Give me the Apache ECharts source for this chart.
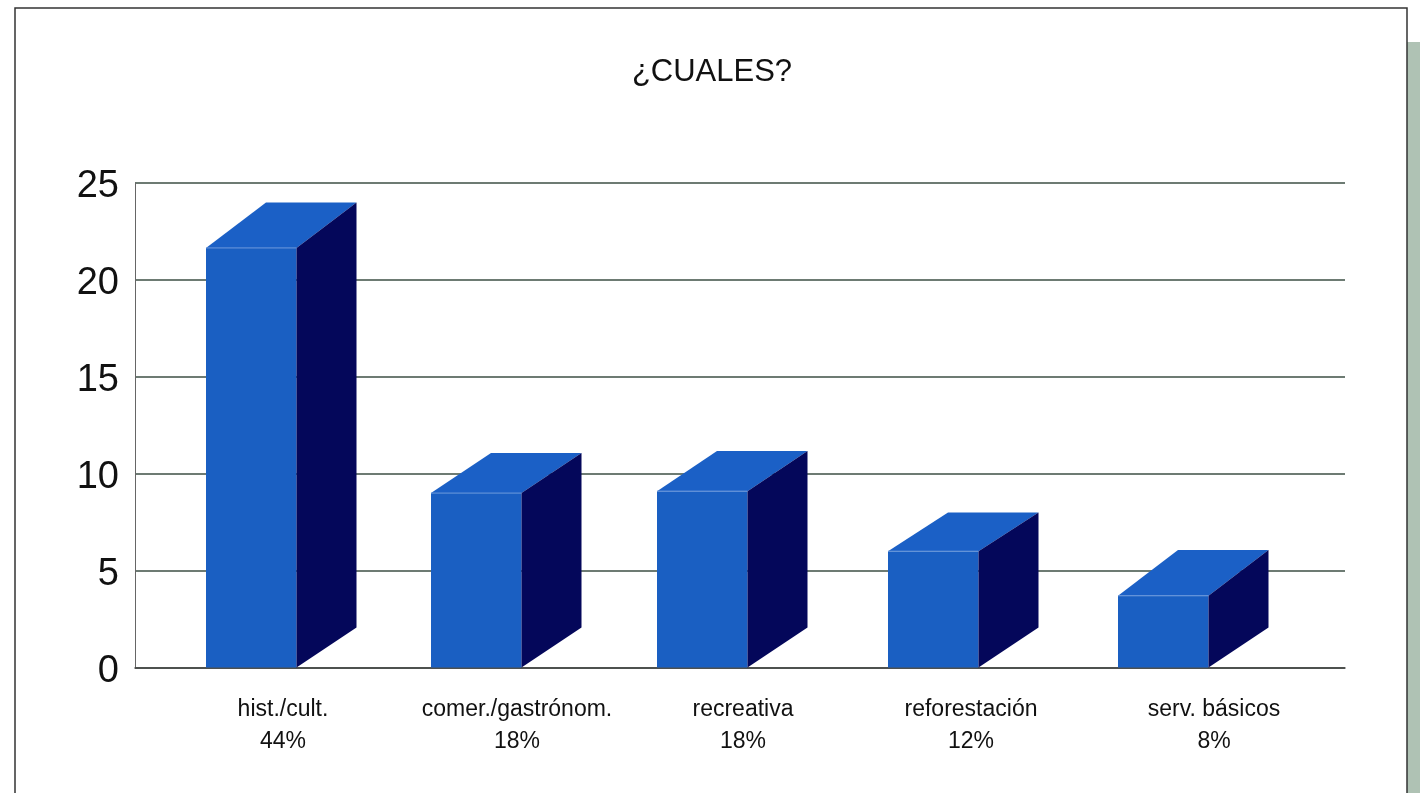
<!DOCTYPE html>
<html><head><meta charset="utf-8">
<style>html,body{margin:0;padding:0;background:#fff}#c{width:1420px;height:793px}</style>
<script src="https://cdn.jsdelivr.net/npm/echarts@6/dist/echarts.min.js"></script>
</head><body><div id="c"></div>
<script>
const categories = ['hist./cult.','comer./gastrónom.','recreativa','reforestación','serv. básicos'];
const percents = ['44%','18%','18%','12%','8%'];
const values = [21.65,9,9.1,6,3.7];
const rearValues = [24,11.07,11.17,8,6.06];
const barSlots = [0.71,2.96,5.22,7.53,9.83];
const labelSlots = [1.48,3.82,6.08,8.36,10.79];
const yTicks = [0,5,10,15,20,25];
const chart = echarts.init(document.getElementById('c'));
const DX=0.6, W=0.905, SIDE_DROP=40;
const FRONT='#1a5fc2', TOP='#1b60c6', SIDE='#04075a';
chart.setOption({
  animation:false,
  backgroundColor:'#ffffff',
  title:{text:'¿CUALES?',left:707,top:52,textAlign:'center',textStyle:{fontFamily:'Liberation Sans',fontSize:31,fontWeight:'normal',color:'#111'}},
  grid:{left:135,right:75,top:183,bottom:125.5,containLabel:false},
  graphic:[
    {type:'rect',silent:true,z:-1,shape:{x:1407,y:42,width:13,height:751},style:{fill:'#afc2b4'}},
    {type:'rect',silent:true,z:-1,shape:{x:15,y:8,width:1392,height:800},style:{fill:'#fff',stroke:'#333',lineWidth:1.5}}
  ],
  xAxis:{type:'value',min:0,max:12.1,splitLine:{show:false},axisTick:{show:false},
    axisLine:{lineStyle:{color:'#444',width:1.5}},
    axisLabel:{customValues:labelSlots,margin:26,lineHeight:32,color:'#111',fontFamily:'Liberation Sans',fontSize:23,
      formatter:v=>{const i=labelSlots.indexOf(v);return categories[i]+'\n'+percents[i];}}},
  yAxis:{type:'value',min:0,max:25,interval:5,
    axisLine:{show:true,lineStyle:{color:'#666'}},axisTick:{show:false},
    splitLine:{lineStyle:{color:'#3d4f45',width:1.5}},
    axisLabel:{margin:16,verticalAlign:'top',lineHeight:8,color:'#111',fontFamily:'Liberation Sans',fontSize:38,
      formatter:v=>yTicks.includes(v)?String(v):''}},
  series:[{type:'custom',data:values.map((v,i)=>[barSlots[i],v,rearValues[i]]),encode:{x:0,y:1},z:5,clip:false,
    renderItem(params,api){
      const s=api.value(0), v=api.value(1), r=api.value(2);
      const fl=api.coord([s,v]), fb=api.coord([s,0]);
      const x1=api.coord([s+W,0])[0], rx0=api.coord([s+DX,0])[0], rx1=api.coord([s+W+DX,0])[0];
      const rt=api.coord([s,r])[1];
      const x0=fl[0], y0=fl[1], y1=fb[1];
      const poly=(pts,fill)=>({type:'polygon',shape:{points:pts},style:{fill}});
      return {type:'group',children:[
        poly([[x0,y0],[x1,y0],[x1,y1],[x0,y1]],FRONT),
        poly([[x0,y0],[rx0,rt],[rx1,rt],[x1,y0]],TOP),
        poly([[x1,y0],[rx1,rt],[rx1,y1-SIDE_DROP],[x1,y1]],SIDE),
        {type:'line',shape:{x1:x0,y1:y0,x2:x1,y2:y0},style:{stroke:'#6f9bdc',lineWidth:1}}
      ]};
    }}]
});
</script></body></html>
